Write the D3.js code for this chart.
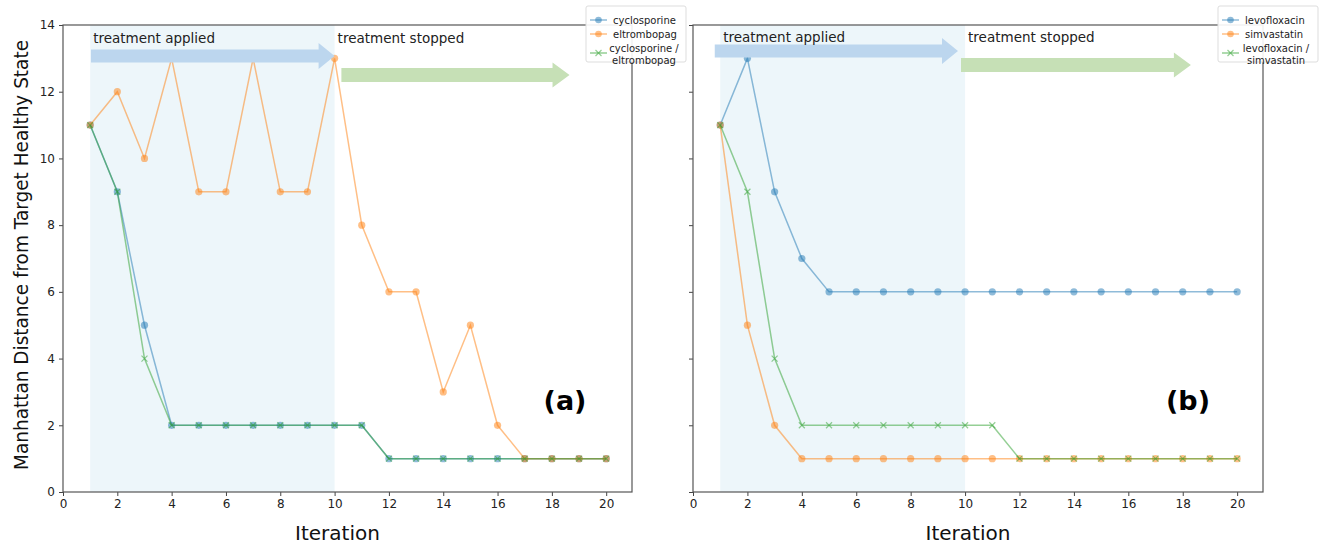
<!DOCTYPE html>
<html>
<head>
<meta charset="utf-8">
<script src="https://cdn.jsdelivr.net/npm/d3@7"></script>
<style>
  body { margin: 0; background: #fff; }
  svg text { font-family: "DejaVu Sans", sans-serif; }
</style>
</head>
<body>
<div id="chart"></div>
<script>
// iterations 1..20
var iterations = d3.range(1, 21);

// panel (a)
var cyclosporine = [11, 9, 5, 2, 2, 2, 2, 2, 2, 2, 2, 1, 1, 1, 1, 1, 1, 1, 1, 1];
var eltrombopag  = [11, 12, 10, 13, 9, 9, 13, 9, 9, 13, 8, 6, 6, 3, 5, 2, 1, 1, 1, 1];
var comboA       = [11, 9, 4, 2, 2, 2, 2, 2, 2, 2, 2, 1, 1, 1, 1, 1, 1, 1, 1, 1];

// panel (b)
var levofloxacin = [11, 13, 9, 7, 6, 6, 6, 6, 6, 6, 6, 6, 6, 6, 6, 6, 6, 6, 6, 6];
var simvastatin  = [11, 5, 2, 1, 1, 1, 1, 1, 1, 1, 1, 1, 1, 1, 1, 1, 1, 1, 1, 1];
var comboB       = [11, 9, 4, 2, 2, 2, 2, 2, 2, 2, 2, 1, 1, 1, 1, 1, 1, 1, 1, 1];

var xTicks = [0, 2, 4, 6, 8, 10, 12, 14, 16, 18, 20];
var yTicks = [0, 2, 4, 6, 8, 10, 12, 14];

var blue = "#1f77b4", orange = "#ff7f0e", green = "#2ca02c";

var width = 1321, height = 546;
var svg = d3.select("#chart").append("svg")
  .attr("width", width)
  .attr("height", height);

var yScale = d3.scaleLinear().domain([0, 14]).range([492, 25]);

var panels = [
  { left: 63, right: 632, label: "(a)", labelX: 565,
    series: [
      { name: "cyclosporine", values: cyclosporine, color: blue, marker: "o" },
      { name: "eltrombopag", values: eltrombopag, color: orange, marker: "o" },
      { name: ["cyclosporine /", "eltrombopag"], values: comboA, color: green, marker: "x" }
    ],
    legendX: 586, applyY: 56, stopY: 75, textY: 43,
    applyArrow: [1.03, 10], stopArrow: [10.25, 18.65], showY: true },
  { left: 693, right: 1263, label: "(b)", labelX: 1188,
    series: [
      { name: "levofloxacin", values: levofloxacin, color: blue, marker: "o" },
      { name: "simvastatin", values: simvastatin, color: orange, marker: "o" },
      { name: ["levofloxacin /", "simvastatin"], values: comboB, color: green, marker: "x" }
    ],
    legendX: 1218, applyY: 51, stopY: 65, textY: 42,
    applyArrow: [0.8, 9.74], stopArrow: [9.85, 18.3], showY: false }
];

function arrow(g, x0, x1, cy, shaft, head, headLen, color) {
  var pts = [
    [x0, cy - shaft / 2], [x1 - headLen, cy - shaft / 2], [x1 - headLen, cy - head / 2],
    [x1, cy], [x1 - headLen, cy + head / 2], [x1 - headLen, cy + shaft / 2], [x0, cy + shaft / 2]
  ];
  g.append("path")
    .attr("d", d3.line()(pts) + "Z")
    .attr("fill", color);
}

panels.forEach(function(p) {
  var x = d3.scaleLinear().domain([0, 20.95]).range([p.left, p.right]);
  var g = svg.append("g");

  // shaded treatment window
  g.append("rect")
    .attr("x", x(1))
    .attr("y", yScale(14))
    .attr("width", x(10) - x(1))
    .attr("height", yScale(0) - yScale(14))
    .attr("fill", "#add8e6")
    .attr("fill-opacity", 0.22);

  // series
  p.series.forEach(function(s) {
    var line = d3.line()
      .x(function(d, i) { return x(iterations[i]); })
      .y(function(d) { return yScale(d); });
    g.append("path")
      .datum(s.values)
      .attr("fill", "none")
      .attr("stroke", s.color)
      .attr("stroke-opacity", 0.5)
      .attr("stroke-width", 1.5)
      .attr("d", line);
    if (s.marker === "o") {
      g.selectAll(null)
        .data(s.values)
        .enter().append("circle")
        .attr("cx", function(d, i) { return x(iterations[i]); })
        .attr("cy", function(d) { return yScale(d); })
        .attr("r", 3.6)
        .attr("fill", s.color)
        .attr("fill-opacity", 0.5);
    } else {
      g.selectAll(null)
        .data(s.values)
        .enter().append("path")
        .attr("d", function(d, i) {
          var cx = x(iterations[i]), cy = yScale(d), r = 3;
          return "M" + (cx - r) + "," + (cy - r) + "L" + (cx + r) + "," + (cy + r) +
                 "M" + (cx - r) + "," + (cy + r) + "L" + (cx + r) + "," + (cy - r);
        })
        .attr("stroke", s.color)
        .attr("stroke-opacity", 0.5)
        .attr("stroke-width", 1.2)
        .attr("fill", "none");
    }
  });

  // axes
  var xAxis = d3.axisBottom(x).tickValues(xTicks).tickSize(4).tickPadding(3);
  var gx = g.append("g")
    .attr("transform", "translate(0," + yScale(0) + ")")
    .call(xAxis);
  gx.select(".domain").remove();
  gx.selectAll("text").attr("font-size", 12).attr("fill", "#222").attr("font-family", "DejaVu Sans");
  gx.selectAll("line").attr("stroke", "#444");

  var yAxis = d3.axisLeft(yScale).tickValues(yTicks).tickSize(4).tickPadding(4);
  if (!p.showY) yAxis.tickFormat("");
  var gy = g.append("g")
    .attr("transform", "translate(" + p.left + ",0)")
    .call(yAxis);
  gy.select(".domain").remove();
  gy.selectAll("text").attr("font-size", 12).attr("fill", "#222").attr("font-family", "DejaVu Sans");
  gy.selectAll("line").attr("stroke", "#444");

  // frame
  g.append("rect")
    .attr("x", p.left)
    .attr("y", yScale(14))
    .attr("width", p.right - p.left)
    .attr("height", yScale(0) - yScale(14))
    .attr("fill", "none")
    .attr("stroke", "#555")
    .attr("stroke-width", 1.2);

  // treatment arrows
  arrow(g, x(p.applyArrow[0]), x(p.applyArrow[1]), p.applyY, 13, 26, 16, "#bcd6ee");
  arrow(g, x(p.stopArrow[0]), x(p.stopArrow[1]), p.stopY, 14, 25, 17, "#c6e0b6");

  g.append("text")
    .attr("x", x(1) + 3)
    .attr("y", p.textY)
    .attr("font-size", 13.5)
    .attr("fill", "#222")
    .text("treatment applied");
  g.append("text")
    .attr("x", x(10) + 3)
    .attr("y", p.textY)
    .attr("font-size", 13.5)
    .attr("fill", "#222")
    .text("treatment stopped");

  // panel label
  g.append("text")
    .attr("x", p.labelX)
    .attr("y", 410)
    .attr("text-anchor", "middle")
    .attr("font-family", "Open Sans, sans-serif")
    .attr("font-weight", "bold")
    .attr("font-size", 27)
    .attr("fill", "#000")
    .text(p.label);

  // x label
  g.append("text")
    .attr("x", (p.left + p.right) / 2 - 10)
    .attr("y", 540)
    .attr("text-anchor", "middle")
    .attr("font-family", "Open Sans, sans-serif")
    .attr("font-size", 20)
    .attr("fill", "#111")
    .text("Iteration");

  // legend
  var lg = g.append("g").attr("transform", "translate(" + p.legendX + ",6)");
  lg.append("rect")
    .attr("width", 100)
    .attr("height", 56)
    .attr("rx", 2)
    .attr("fill", "#fff")
    .attr("fill-opacity", 0.9)
    .attr("stroke", "#ddd");
  var rows = [14, 28, 47];
  p.series.forEach(function(s, i) {
    var ry = rows[i];
    lg.append("line")
      .attr("x1", 4).attr("x2", 21)
      .attr("y1", ry).attr("y2", ry)
      .attr("stroke", s.color).attr("stroke-opacity", 0.5).attr("stroke-width", 1.5);
    if (s.marker === "o") {
      lg.append("circle").attr("cx", 12.5).attr("cy", ry).attr("r", 3.3)
        .attr("fill", s.color).attr("fill-opacity", 0.5);
    } else {
      lg.append("path")
        .attr("d", "M9.5," + (ry - 3) + "L15.5," + (ry + 3) + "M9.5," + (ry + 3) + "L15.5," + (ry - 3))
        .attr("stroke", s.color).attr("stroke-opacity", 0.5).attr("stroke-width", 1.2);
    }
    if (Array.isArray(s.name)) {
      lg.append("text").attr("x", 58).attr("y", ry - 1).attr("text-anchor", "middle")
        .attr("font-size", 10).attr("fill", "#222").text(s.name[0]);
      lg.append("text").attr("x", 58).attr("y", ry + 10.5).attr("text-anchor", "middle")
        .attr("font-size", 10).attr("fill", "#222").text(s.name[1]);
    } else {
      lg.append("text").attr("x", 27).attr("y", ry + 3.5)
        .attr("font-size", 10).attr("fill", "#222").text(s.name);
    }
  });
});

// shared y label
svg.append("text")
  .attr("transform", "translate(28," + 255 + ") rotate(-90)")
  .attr("text-anchor", "middle")
  .attr("font-family", "Open Sans, sans-serif")
  .attr("font-size", 20)
  .attr("textLength", 430)
  .attr("lengthAdjust", "spacingAndGlyphs")
  .attr("fill", "#111")
  .text("Manhattan Distance from Target Healthy State");
</script>
</body>
</html>
